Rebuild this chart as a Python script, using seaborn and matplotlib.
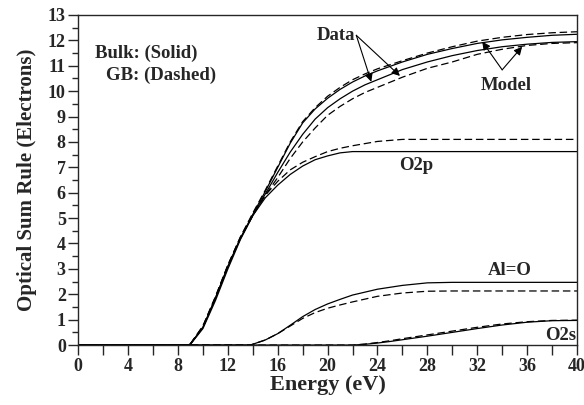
import numpy as np
import pandas as pd
import matplotlib
matplotlib.use("Agg")
import matplotlib.pyplot as plt
import seaborn as sns
from matplotlib.ticker import MultipleLocator

# ---- data ----
energy_main = [0, 8.8, 9, 10, 11, 12, 13, 14, 15, 16, 17, 18, 19, 20, 21, 22, 23, 24, 26, 28, 30, 32, 34, 36, 38, 40]
data_gb    = [0, 0, 0.05, 0.75, 1.9, 3.15, 4.25, 5.2, 6.1, 7.05, 8.0, 8.8, 9.35, 9.8, 10.15, 10.45, 10.68, 10.88, 11.2, 11.5, 11.75, 11.97, 12.12, 12.23, 12.3, 12.34]
data_bulk  = [0, 0, 0.04, 0.7, 1.85, 3.1, 4.2, 5.15, 6.05, 7.0, 7.95, 8.75, 9.3, 9.72, 10.07, 10.36, 10.6, 10.8, 11.15, 11.45, 11.68, 11.88, 12.02, 12.12, 12.2, 12.24]
model_bulk = [0, 0, 0.03, 0.65, 1.75, 3.0, 4.15, 5.1, 5.95, 6.8, 7.6, 8.3, 8.9, 9.35, 9.7, 10.0, 10.25, 10.45, 10.85, 11.15, 11.4, 11.6, 11.75, 11.85, 11.92, 11.95]
model_gb   = [0, 0, 0.05, 0.7, 1.85, 3.1, 4.2, 5.1, 5.9, 6.6, 7.35, 8.0, 8.55, 9.05, 9.4, 9.7, 9.95, 10.15, 10.55, 10.9, 11.15, 11.45, 11.65, 11.8, 11.88, 11.91]

energy_o2p = [0, 8.8, 9, 10, 11, 12, 13, 14, 15, 16, 17, 18, 19, 20, 21, 22, 24, 26, 40]
o2p_bulk = [0, 0, 0.05, 0.7, 1.85, 3.1, 4.2, 5.1, 5.8, 6.3, 6.72, 7.05, 7.3, 7.45, 7.57, 7.62, 7.62, 7.62, 7.62]
o2p_gb   = [0, 0, 0.05, 0.75, 1.9, 3.15, 4.25, 5.15, 5.9, 6.45, 6.9, 7.2, 7.42, 7.62, 7.75, 7.85, 8.02, 8.1, 8.1]

energy_alo = [0, 13.8, 15, 16, 17, 18, 19, 20, 21, 22, 24, 26, 28, 30, 40]
alo_bulk = [0, 0, 0.2, 0.45, 0.78, 1.12, 1.4, 1.62, 1.8, 1.97, 2.2, 2.35, 2.45, 2.47, 2.47]
alo_gb   = [0, 0, 0.2, 0.45, 0.75, 1.05, 1.28, 1.45, 1.58, 1.7, 1.92, 2.05, 2.12, 2.13, 2.13]

energy_o2s = [0, 22, 23, 24, 25, 26, 28, 30, 32, 34, 36, 38, 40]
o2s_bulk = [0, 0, 0.03, 0.08, 0.14, 0.21, 0.35, 0.5, 0.65, 0.79, 0.9, 0.96, 0.97]
o2s_gb   = [0, 0, 0.04, 0.1, 0.17, 0.25, 0.4, 0.55, 0.7, 0.83, 0.92, 0.97, 0.98]

x_ticks = list(range(0, 41, 4))
y_ticks = list(range(0, 14))

# ---- style ----
sns.set_style("ticks")
plt.rcParams['font.family'] = ['Liberation Serif', 'DejaVu Serif']
plt.rcParams['font.weight'] = 'bold'
plt.rcParams['axes.labelweight'] = 'bold'

fig = plt.figure(figsize=(5.84, 4.05), dpi=100)
ax = fig.add_axes([0.134, 0.148, 0.854, 0.815])

lw = 0.9
dash = (6, 3)
series = [
    (energy_main, data_bulk, '-'), (energy_main, data_gb, '--'),
    (energy_main, model_bulk, '-'), (energy_main, model_gb, '--'),
    (energy_o2p, o2p_bulk, '-'), (energy_o2p, o2p_gb, '--'),
    (energy_alo, alo_bulk, '-'), (energy_alo, alo_gb, '--'),
    (energy_o2s, o2s_bulk, '-'), (energy_o2s, o2s_gb, '--'),
]
for xs, ys, ls in series:
    sns.lineplot(x=xs, y=ys, ax=ax, color='black', linewidth=lw, linestyle=ls)
for l in ax.get_lines():
    if l.get_linestyle() == '--':
        l.set_dashes(dash)

ax.set_xlim(0, 40)
ax.set_ylim(0, 13)
ax.xaxis.set_major_locator(plt.FixedLocator(x_ticks))
ax.xaxis.set_minor_locator(MultipleLocator(2))
ax.yaxis.set_major_locator(plt.FixedLocator(y_ticks))
ax.yaxis.set_minor_locator(MultipleLocator(0.5))
ax.tick_params(axis='both', which='major', direction='out', length=7, width=1, labelsize=13, pad=2)
ax.tick_params(axis='x', which='minor', direction='out', length=7, width=1)
ax.tick_params(axis='y', which='minor', direction='out', length=4, width=1)
for s in ax.spines.values():
    s.set_visible(True)
    s.set_linewidth(1)
for lab in ax.get_xticklabels() + ax.get_yticklabels():
    lab.set_fontweight('bold')

ax.set_xlabel('Energy (eV)', fontsize=16, fontweight='bold', labelpad=0)
ax.set_ylabel('Optical Sum Rule (Electrons)', fontsize=15, fontweight='bold', labelpad=8)

ax.text(1.36, 11.3, 'Bulk: (Solid)', fontsize=13.5, fontweight='bold', va='baseline', ha='left')
ax.text(2.22, 10.44, 'GB: (Dashed)', fontsize=13.5, fontweight='bold', va='baseline', ha='left')

ap = dict(arrowstyle='-|>', color='black', lw=0.8, mutation_scale=12, shrinkA=0, shrinkB=0)
ax.text(20.7, 12.0, 'Data', fontsize=13.5, fontweight='bold', va='baseline', ha='center')
ax.annotate('', xy=(23.5, 10.37), xytext=(22.3, 12.2), arrowprops=ap)
ax.annotate('', xy=(25.8, 10.6), xytext=(22.3, 12.2), arrowprops=ap)
ax.text(34.35, 10.05, 'Model', fontsize=13.5, fontweight='bold', va='baseline', ha='center')
ax.annotate('', xy=(32.4, 11.95), xytext=(34.0, 10.84), arrowprops=ap)
ax.annotate('', xy=(35.6, 11.75), xytext=(34.0, 10.84), arrowprops=ap)

ax.text(27.1, 6.9, 'O2p', fontsize=13.5, fontweight='bold', va='baseline', ha='center')
ax.text(34.6, 2.76, 'Al=O', fontsize=13.5, fontweight='bold', va='baseline', ha='center')
ax.text(39.95, 0.2, 'O2s', fontsize=13.5, fontweight='bold', va='baseline', ha='right')

fig.savefig('out.png', dpi=100)
